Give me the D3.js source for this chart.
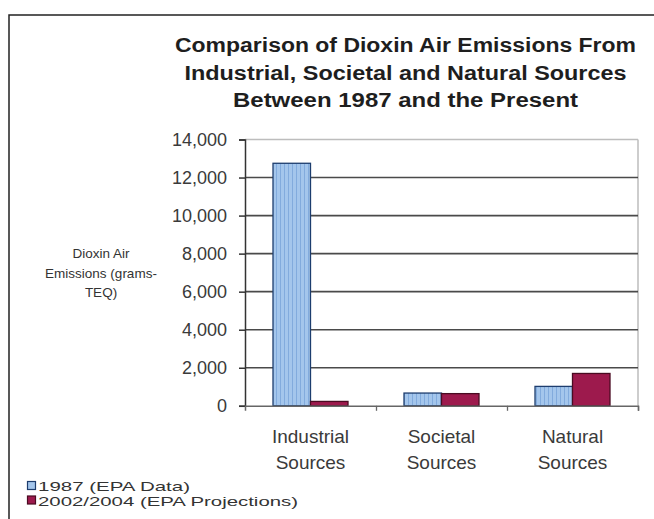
<!DOCTYPE html>
<html><head><meta charset="utf-8">
<script src="https://cdn.jsdelivr.net/npm/d3@7"></script>
<style>
html,body{margin:0;padding:0;background:#fff;}
svg{display:block;}
text{font-family:"Liberation Sans",Arial,sans-serif;}
</style></head>
<body>
<svg id="c" width="654" height="519"></svg>
<script>
const titleLines = ["Comparison of Dioxin Air Emissions From","Industrial, Societal and Natural Sources","Between 1987 and the Present"];
const categories = ["Industrial Sources","Societal Sources","Natural Sources"];
const seriesNames = ["1987 (EPA Data)","2002/2004 (EPA Projections)"];
const values1987 = [12750, 670, 1020];
const values2002 = [230, 640, 1700];
const yTicks = [0,2000,4000,6000,8000,10000,12000,14000];
const yLabelLines = ["Dioxin Air","Emissions (grams-","TEQ)"];

const svg = d3.select("#c");
const defs = svg.append("defs");
const pat = defs.append("pattern").attr("id","stripe").attr("patternUnits","userSpaceOnUse")
  .attr("width",4).attr("height",4);
pat.append("rect").attr("width",4).attr("height",4).attr("fill","#a4c6ec");
pat.append("rect").attr("x",0).attr("width",1).attr("height",4).attr("fill","#82abdd");

// outer frame
svg.append("rect").attr("x",9).attr("y",15).attr("width",700).attr("height",600)
  .attr("fill","none").attr("stroke","#222").attr("stroke-width",1.5);

// title
const titleW = [461,442,345];
titleLines.forEach((t,i)=>{
  svg.append("text").attr("x",405.5).attr("y",52+i*27.5).attr("text-anchor","middle")
    .attr("font-weight","bold").attr("font-size",20).attr("fill","#1e1e1e")
    .attr("textLength",titleW[i]).attr("lengthAdjust","spacingAndGlyphs").text(t);
});

const L=245, R=638, T=139.5, B=405.8;
const y = d3.scaleLinear().domain([0,14000]).range([B,T]);
const x0 = d3.scaleBand().domain(categories).range([L,R]).paddingInner(0.4275).paddingOuter(0.21375);
const x1 = d3.scaleBand().domain(seriesNames).range([0,x0.bandwidth()]);

// plot border (light)
svg.append("line").attr("x1",L).attr("x2",R).attr("y1",y(14000)).attr("y2",y(14000)).attr("stroke","#bdbdbd").attr("stroke-width",1.5);
svg.append("line").attr("x1",R).attr("x2",R).attr("y1",T).attr("y2",B).attr("stroke","#bdbdbd").attr("stroke-width",1.5);
// gridlines
svg.append("g").selectAll("line").data(yTicks.filter(d=>d>0&&d<14000)).join("line")
  .attr("x1",L).attr("x2",R).attr("y1",d=>y(d)).attr("y2",d=>y(d))
  .attr("stroke","#4a4a4a").attr("stroke-width",1.6);

// bars
const data = categories.map((c,i)=>({cat:c, vals:[values1987[i], values2002[i]]}));
const fills = ["url(#stripe)","#9d1a4d"];
const strokes = ["#1d3d6e","#4a0b22"];
const g = svg.append("g");
data.forEach(d=>{
  d.vals.forEach((v,j)=>{
    g.append("rect").attr("x",x0(d.cat)+x1(seriesNames[j])).attr("y",y(v))
      .attr("width",x1.bandwidth()).attr("height",B-y(v))
      .attr("fill",fills[j]).attr("stroke",strokes[j]).attr("stroke-width",1.3);
  });
});

// y axis
const ya = svg.append("g").attr("transform",`translate(${L},0)`)
  .call(d3.axisLeft(y).tickValues(yTicks).tickSize(6).tickPadding(12).tickFormat(d3.format(",")));
ya.select(".domain").attr("stroke","#333").attr("stroke-width",1.5);
ya.selectAll(".tick line").attr("stroke","#333").attr("stroke-width",1.5);
ya.selectAll(".tick text").attr("font-size",18).attr("fill","#3a3a3a")
  .attr("font-family","'Liberation Sans',Arial,sans-serif");

// x axis
const xi = d3.scaleLinear().domain([0,categories.length]).range([L,R]);
const xa = svg.append("g").attr("transform",`translate(0,${B})`)
  .call(d3.axisBottom(xi).tickValues(d3.range(1,categories.length+1)).tickSize(5).tickFormat(""));
xa.select(".domain").attr("stroke","#666").attr("stroke-width",1.5);
xa.selectAll(".tick line").attr("stroke","#666").attr("stroke-width",1.3);

// category labels
categories.forEach(c=>{
  const parts = c.split(" ");
  const cx = x0(c)+x0.bandwidth()/2;
  parts.forEach((p,k)=>{
    svg.append("text").attr("x",cx).attr("y",443+k*26).attr("text-anchor","middle")
      .attr("font-size",19).attr("fill","#3a3a3a").text(p);
  });
});

// y label
yLabelLines.forEach((t,i)=>{
  svg.append("text").attr("x",101).attr("y",258+i*19.5).attr("text-anchor","middle")
    .attr("font-size",13.5).attr("fill","#333").text(t);
});

// legend
const legW = [152,260];
const legFill = ["#a4c6ec","#9d1a4d"];
seriesNames.forEach((s,i)=>{
  const yy = 481.5+i*14.5;
  svg.append("rect").attr("x",27.5).attr("y",yy).attr("width",8).attr("height",8)
    .attr("fill",legFill[i]).attr("stroke",strokes[i]).attr("stroke-width",1.2);
  svg.append("text").attr("x",38).attr("y",yy+9.5).attr("font-size",13.5).attr("fill","#333")
    .attr("textLength",legW[i]).attr("lengthAdjust","spacingAndGlyphs").text(s);
});
</script>
</body></html>
